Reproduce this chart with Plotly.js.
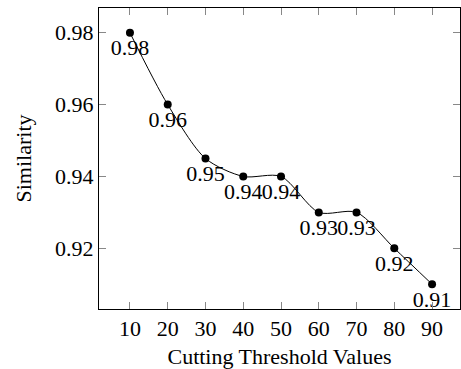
<!DOCTYPE html>
<html>
<head>
<meta charset="utf-8">
<script src="https://cdn.plot.ly/plotly-3.0.1.min.js"></script>
<style>html,body{margin:0;padding:0;background:#fff;}#chart{width:461px;height:369px;}</style>
</head>
<body>
<div id="chart"></div>
<script>
const thresholds = [10, 20, 30, 40, 50, 60, 70, 80, 90];
const similarity = [0.98, 0.96, 0.945, 0.94, 0.94, 0.93, 0.93, 0.92, 0.91];
const pointLabels = ["0.98", "0.96", "0.95", "0.94", "0.94", "0.93", "0.93", "0.92", "0.91"];
const xTicks = [10, 20, 30, 40, 50, 60, 70, 80, 90];
const yTicks = [0.92, 0.94, 0.96, 0.98];
const yTickLabels = ["0.92", "0.94", "0.96", "0.98"];

const font = "Liberation Serif, Times New Roman, serif";

const trace = {
  x: thresholds,
  y: similarity,
  mode: "lines+markers+text",
  type: "scatter",
  line: {color: "#000", width: 1, shape: "spline", smoothing: 0.8},
  marker: {color: "#000", size: 8},
  text: pointLabels,
  textposition: "bottom center",
  textfont: {family: font, size: 22, color: "#000"},
  cliponaxis: false,
  hoverinfo: "none"
};

const axisCommon = {
  showline: true,
  linecolor: "#000",
  linewidth: 1,
  mirror: "allticks",
  ticks: "inside",
  ticklen: 7,
  tickcolor: "#888",
  tickwidth: 1,
  showgrid: false,
  zeroline: false,
  tickfont: {family: font, size: 22, color: "#000"}
};

const layout = {
  width: 461,
  height: 369,
  margin: {l: 99, r: 1, t: 8, b: 60},
  paper_bgcolor: "#fff",
  plot_bgcolor: "#fff",
  showlegend: false,
  font: {family: font, color: "#000"},
  xaxis: Object.assign({}, axisCommon, {
    range: [1.8, 97.4],
    tickmode: "array",
    tickvals: xTicks,
    ticktext: xTicks.map(String),
    title: {text: "Cutting Threshold Values", font: {family: font, size: 22, color: "#000"}, standoff: 8}
  }),
  yaxis: Object.assign({}, axisCommon, {
    range: [0.9031, 0.9869],
    tickmode: "array",
    tickvals: yTicks,
    ticktext: yTickLabels,
    title: {text: "Similarity", font: {family: font, size: 22, color: "#000"}, standoff: 17}
  })
};

Plotly.newPlot("chart", [trace], layout, {displayModeBar: false, staticPlot: true});
</script>
</body>
</html>
